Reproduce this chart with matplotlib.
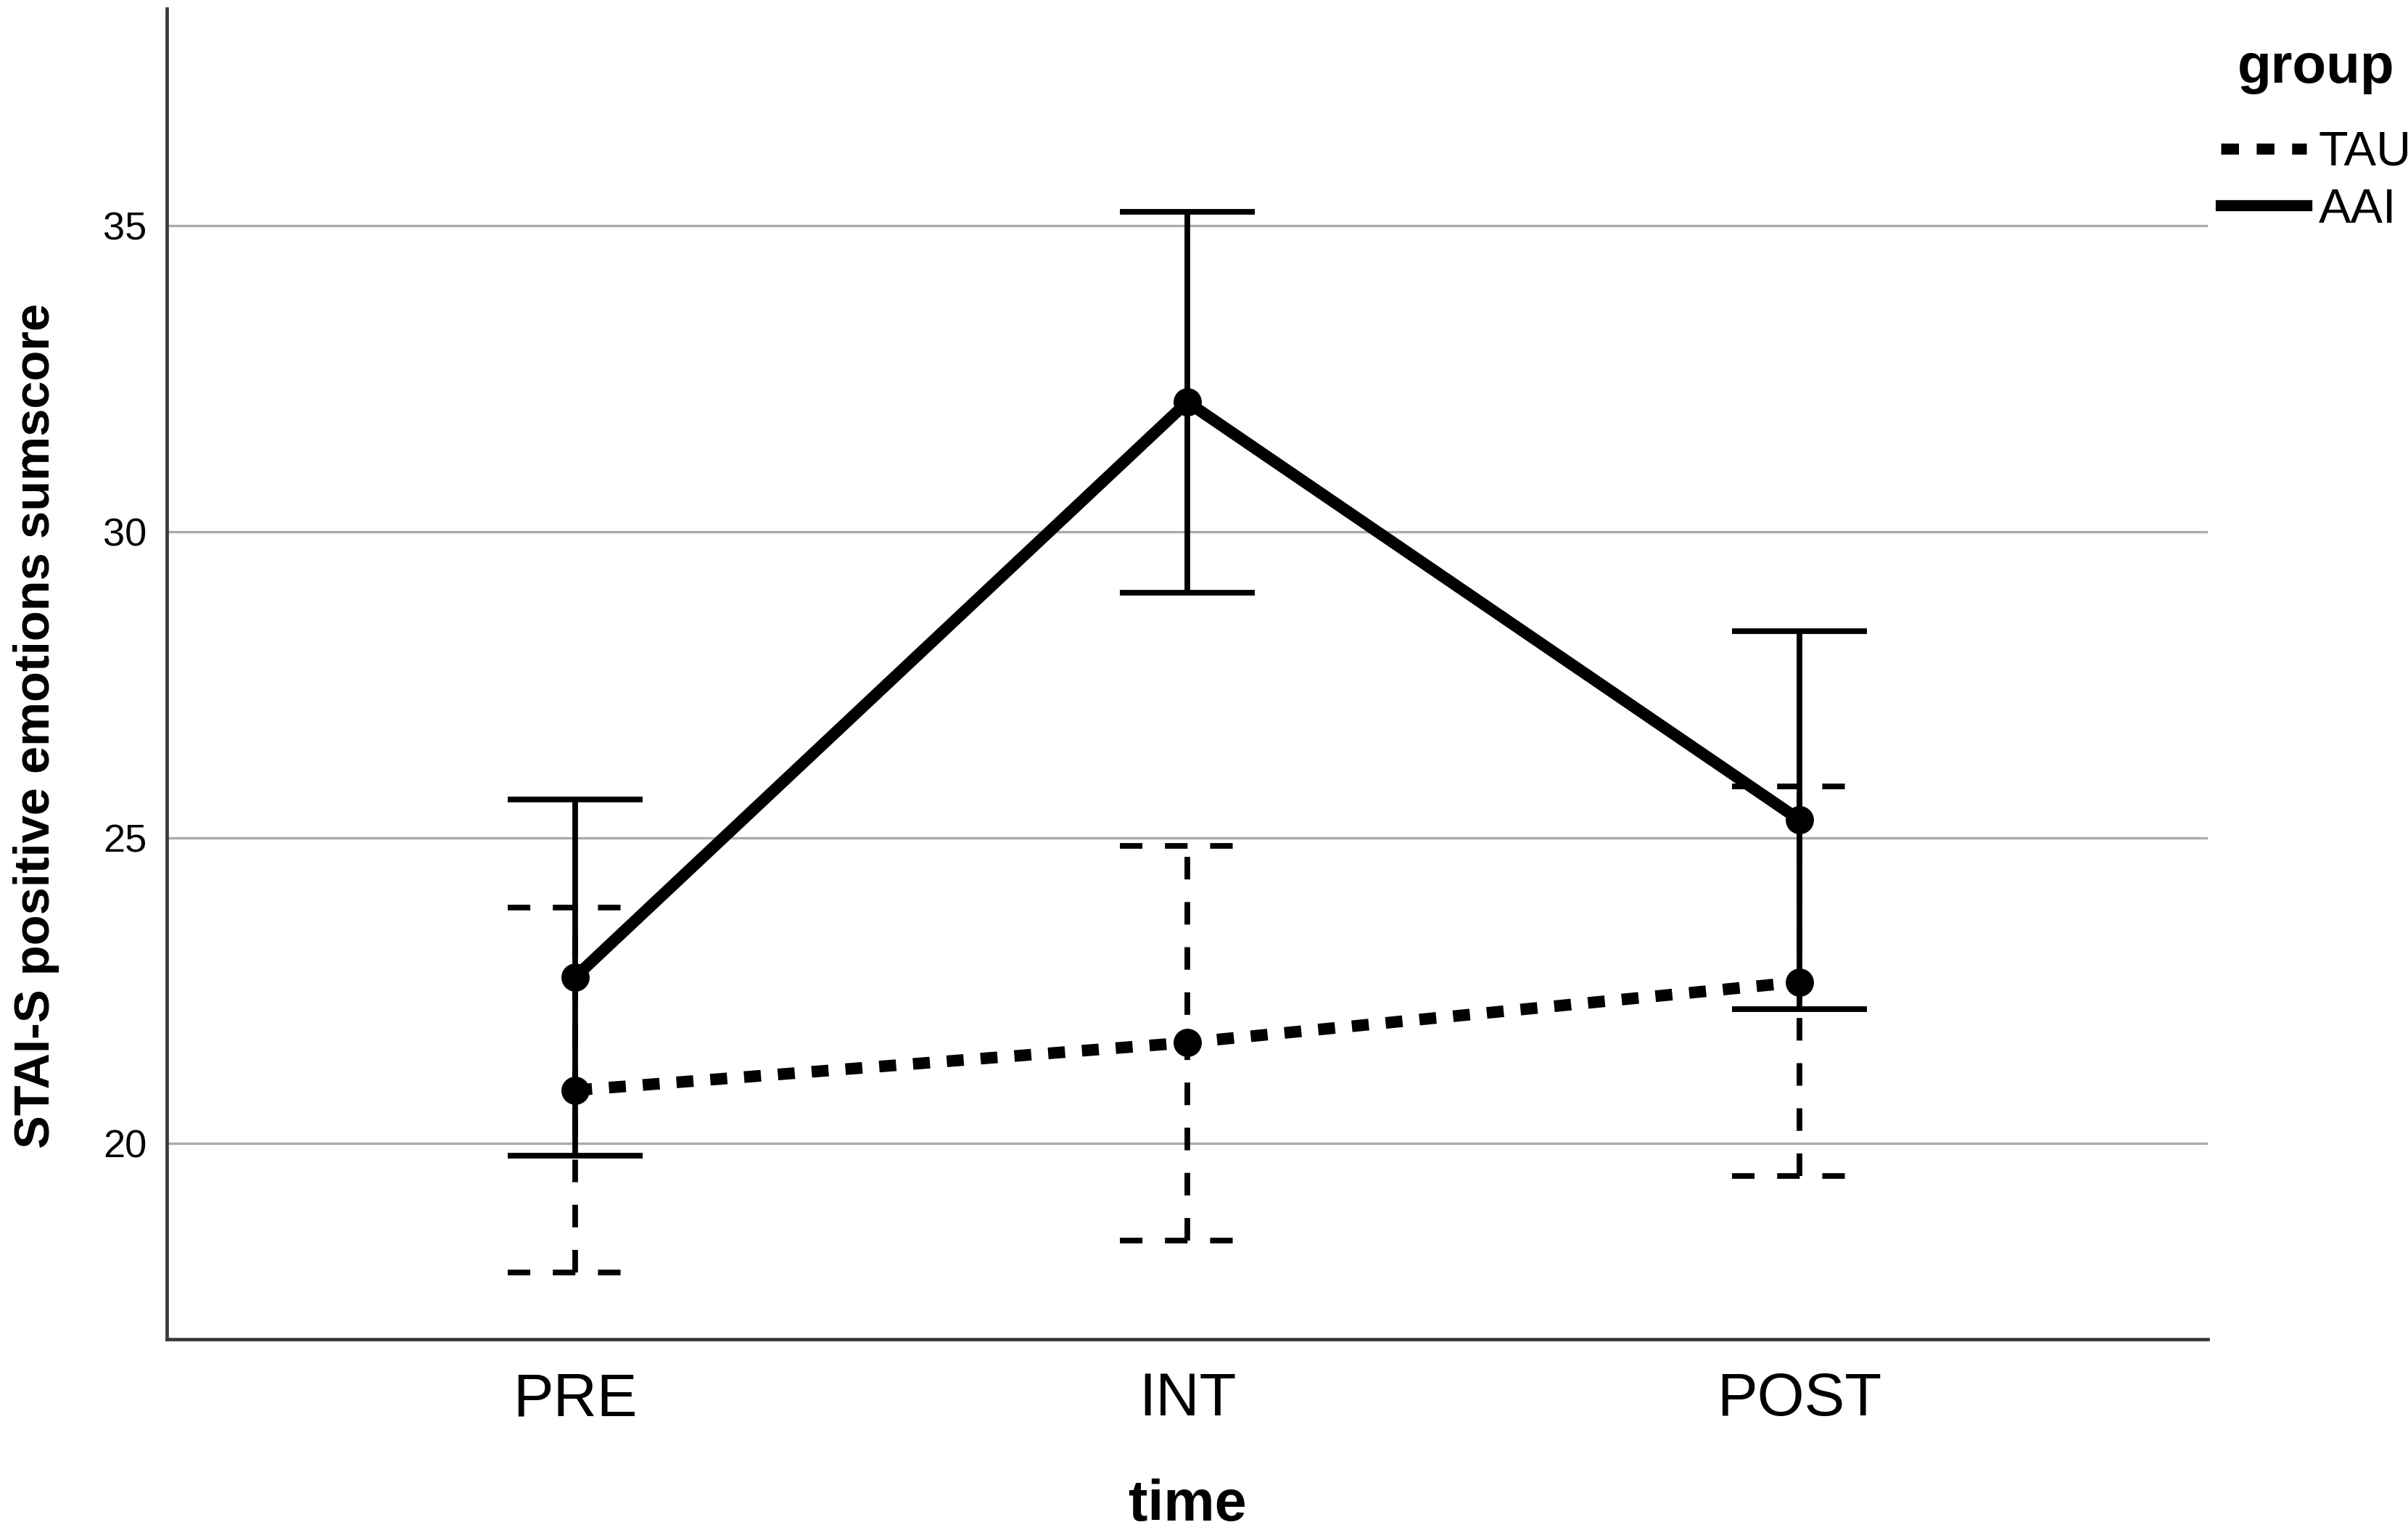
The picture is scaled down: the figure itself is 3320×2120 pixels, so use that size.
import matplotlib
matplotlib.use('Agg')
import matplotlib.pyplot as plt
from matplotlib import font_manager
from matplotlib.lines import Line2D
import numpy as np

plt.rcParams['font.family'] = ['Liberation Sans', 'DejaVu Sans']

# values (means with 95% CI)
times = ['PRE', 'INT', 'POST']
aai_mean = [22.72, 32.12, 25.29]
aai_low = [19.80, 29.00, 22.20]
aai_high = [25.62, 35.23, 28.38]
tau_mean = [20.87, 21.65, 22.64]
tau_low = [17.89, 18.41, 19.47]
tau_high = [23.86, 24.86, 25.84]

CAP = 0.11
LINE_W = 5.8
ERR_W = 2.8

# the y label is set in a narrow bold face in the original
installed = {f.name for f in font_manager.fontManager.ttflist}
if 'Liberation Sans Narrow' in installed:
    ylab_font = {'family': ['Liberation Sans Narrow', 'DejaVu Sans'], 'size': 30}
else:
    ylab_font = {'family': ['Liberation Sans', 'DejaVu Sans'], 'size': 24.7}

fig = plt.figure(figsize=(16.6, 10.6), dpi=200)
ax = fig.add_axes([230 / 3320, 1 - 1846 / 2120, (3044 - 230) / 3320, (1846 - 12) / 2120])

x = np.arange(len(times))
dash_err = (0, (4.0, 4.0))

# TAU: dashed error bars, dotted mean line
ax.vlines(x, tau_low, tau_high, color='black', lw=ERR_W, linestyles=dash_err, zorder=3)
ax.hlines(tau_low, x - CAP, x + CAP, color='black', lw=ERR_W, linestyles=dash_err, zorder=3)
ax.hlines(tau_high, x - CAP, x + CAP, color='black', lw=ERR_W, linestyles=dash_err, zorder=3)
ax.plot(x, tau_mean, color='black', lw=LINE_W, dashes=(1.45, 1.45), dash_capstyle='butt',
        marker='o', markersize=13, zorder=4)

# AAI: solid error bars, solid mean line
ax.vlines(x, aai_low, aai_high, color='black', lw=ERR_W, zorder=3)
ax.hlines(aai_low, x - CAP, x + CAP, color='black', lw=ERR_W, zorder=3)
ax.hlines(aai_high, x - CAP, x + CAP, color='black', lw=ERR_W, zorder=3)
ax.plot(x, aai_mean, color='black', lw=LINE_W, marker='o', markersize=13, zorder=4)

ax.set_xlim(-0.667, 2.667)
ax.set_ylim(16.8, 38.55)
ax.set_xticks(x)
ax.set_xticklabels(times)
ax.set_yticks([20, 25, 30, 35])

ax.tick_params(axis='x', length=0, pad=16, labelsize=30)
ax.tick_params(axis='y', length=0, pad=10, labelsize=19.5)

ax.grid(axis='y', color='#ababab', lw=1.2)
ax.set_axisbelow(True)

for side in ['top', 'right']:
    ax.spines[side].set_visible(False)
for side in ['left', 'bottom']:
    ax.spines[side].set_color('#3a3a3a')
    ax.spines[side].set_linewidth(1.7)

ax.set_xlabel('time', fontsize=28.5, fontweight='bold', labelpad=25)
ax.set_ylabel('STAI-S positive emotions sumscore', fontweight='bold', **ylab_font)
ax.yaxis.set_label_coords(-0.0526, 0.461)

# legend outside the axes, top right
fig.text(3193 / 3320, 1 - 94 / 2120, 'group', fontsize=27.5, fontweight='bold',
         ha='center', va='center')
handles = [
    Line2D([], [], color='black', lw=5.5, dashes=(1.6, 1.6), dash_capstyle='butt'),
    Line2D([], [], color='black', lw=5.5),
]
fig.legend(handles, ['TAU', 'AAI'], loc='upper left',
           bbox_to_anchor=(3062 / 3320, 1 - 180 / 2120),
           frameon=False, fontsize=24,
           handlelength=1.77, handletextpad=0.25, labelspacing=0.25,
           borderpad=0, borderaxespad=0)

fig.savefig('out.png', dpi=200)
